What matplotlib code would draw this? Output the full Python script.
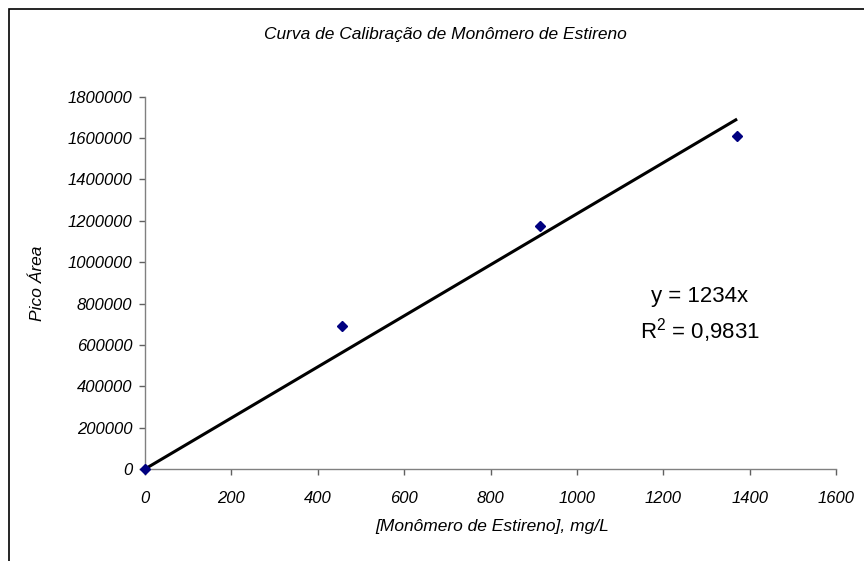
import matplotlib.pyplot as plt
from matplotlib.patches import Rectangle
from matplotlib.ticker import FuncFormatter
import numpy as np

plt.rcParams['font.family'] = ['Liberation Sans', 'DejaVu Sans']
plt.rcParams['mathtext.fontset'] = 'custom'
plt.rcParams['mathtext.rm'] = 'Liberation Sans'

# concentration (mg/L) vs peak area
conc = [0, 457, 914, 1371]
area = [0, 691000, 1175000, 1612000]
slope = 1234
r2_text = "0,9831"

fig = plt.figure(figsize=(8.64, 5.61), dpi=100)
ax = fig.add_axes([145/864, 1 - 469/561, (836 - 145)/864, (469 - 96.7)/561])

# trend line through origin
xs = np.array([0, max(conc)])
ax.plot(xs, slope*xs, color='black', lw=2.2, zorder=2, solid_capstyle='butt')
ax.plot(conc, area, 'D', color='#000080', markersize=5.6, zorder=3, clip_on=False)

ax.set_xlim(0, 1600)
ax.set_ylim(0, 1800000)
ax.set_xticks(np.arange(0, 1601, 200))
ax.set_yticks(np.arange(0, 1800001, 200000))
ax.yaxis.set_major_formatter(FuncFormatter(lambda v, p: "%d" % v))

for s in ['top', 'right']:
    ax.spines[s].set_visible(False)
for s in ['left', 'bottom']:
    ax.spines[s].set_color('#808080')
    ax.spines[s].set_linewidth(1.0)
ax.tick_params(direction='out', length=4, width=1, color='#606060',
               labelsize=12, pad=5)
for lab in ax.get_xticklabels() + ax.get_yticklabels():
    lab.set_fontstyle('italic')
ax.tick_params(axis='x', pad=12)

fig.text(445/864, 1 - 35/561, "Curva de Calibração de Monômero de Estireno",
         ha='center', va='center', fontsize=12.5, style='italic')
fig.text(492/864, 1 - 526/561, "[Monômero de Estireno], mg/L",
         ha='center', va='center', fontsize=12.5, style='italic')
fig.text(38/864, 1 - 283/561, "Pico Área", rotation=90,
         ha='center', va='center', fontsize=12.5, style='italic')

ax.text(0.803, 0.462, "y = %dx" % slope, transform=ax.transAxes,
        ha='center', va='center', fontsize=16)
ax.text(0.803, 0.373, "R$^2$ = " + r2_text, transform=ax.transAxes,
        ha='center', va='center', fontsize=16)

# chart area border (only top/left visible in the canvas)
fig.add_artist(Rectangle((9/864, -0.5), 2, 1.5 - 9/561, transform=fig.transFigure,
                         fill=False, edgecolor='black', lw=1.2))

fig.savefig('out.png', dpi=100)
